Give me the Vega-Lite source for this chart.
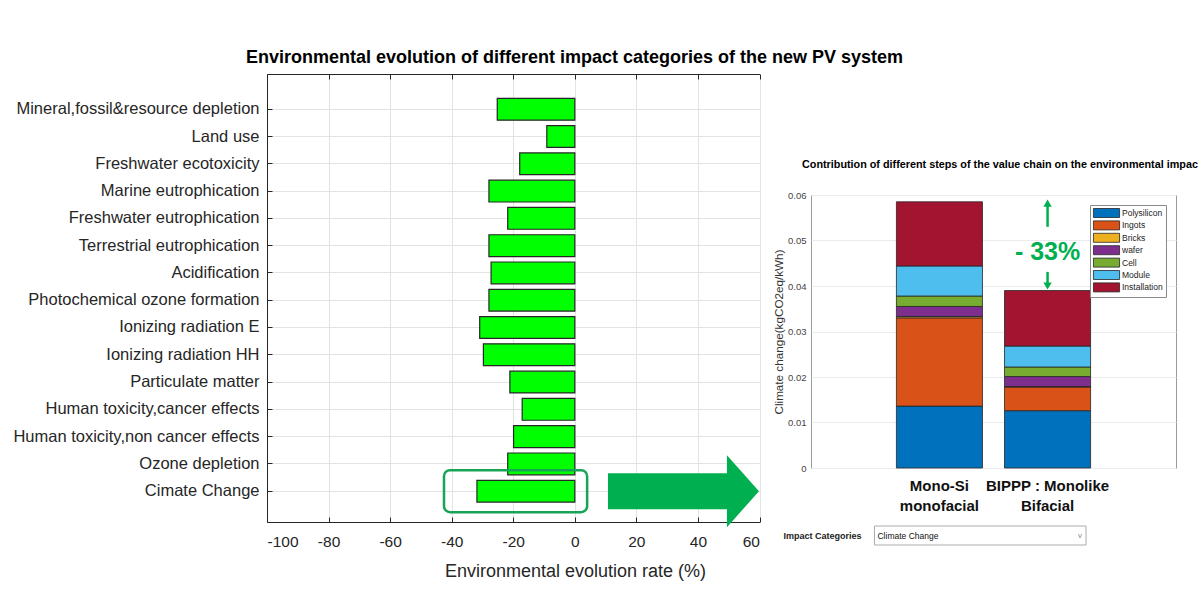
{
  "$schema": "https://vega.github.io/schema/vega-lite/v6.json",
  "background": "white",
  "padding": {"left": 12, "top": 48, "right": 0, "bottom": 0},
  "title": {"text": "Environmental evolution  of different impact categories of the new PV system", "anchor": "start", "dx": 233, "fontSize": 18, "fontWeight": "bold", "color": "#000000", "offset": 7},
  "config": {"font": "Liberation Sans"},
  "spacing": 12,
  "resolve": {"scale": {"color": "independent", "shape": "independent"}, "legend": {"color": "independent", "shape": "independent"}},
  "hconcat": [
    {
      "width": 492.5,
      "height": 448,
      "view": {"stroke": null},
      "layer": [
        {
          "data": {"values": [
            {"category": "Mineral,fossil&resource depletion", "rate": -25.2},
            {"category": "Land use", "rate": -9.1},
            {"category": "Freshwater ecotoxicity", "rate": -17.9},
            {"category": "Marine eutrophication", "rate": -27.9},
            {"category": "Freshwater eutrophication", "rate": -21.8},
            {"category": "Terrestrial eutrophication", "rate": -27.9},
            {"category": "Acidification", "rate": -27.2},
            {"category": "Photochemical ozone formation", "rate": -27.9},
            {"category": "Ionizing radiation E", "rate": -30.9},
            {"category": "Ionizing radiation HH", "rate": -29.7},
            {"category": "Particulate matter", "rate": -21.1},
            {"category": "Human toxicity,cancer effects", "rate": -17.1},
            {"category": "Human toxicity,non cancer effects", "rate": -19.9},
            {"category": "Ozone depletion", "rate": -21.8},
            {"category": "Cimate Change", "rate": -31.8}
          ]},
          "mark": {"type": "bar", "fill": "#00ff00", "stroke": "#262626", "strokeWidth": 1.2},
          "encoding": {
            "y": {
              "field": "category", "type": "nominal", "sort": null,
              "scale": {
                "domain": ["Mineral,fossil&resource depletion", "Land use", "Freshwater ecotoxicity", "Marine eutrophication", "Freshwater eutrophication", "Terrestrial eutrophication", "Acidification", "Photochemical ozone formation", "Ionizing radiation E", "Ionizing radiation HH", "Particulate matter", "Human toxicity,cancer effects", "Human toxicity,non cancer effects", "Ozone depletion", "Cimate Change"],
                "paddingInner": 0.2, "paddingOuter": 0.81, "align": 0.55
              },
              "axis": {"title": null, "labelFontSize": 16.5, "labelColor": "#262626", "labelPadding": 13, "labelLimit": 400, "domainColor": "#262626", "ticks": true, "tickSize": -5, "tickColor": "#262626", "grid": true, "gridColor": "#e3e3e3", "bandPosition": 0.5}
            },
            "x": {
              "field": "rate", "type": "quantitative",
              "scale": {"domain": [-100, 60], "nice": false, "zero": false},
              "axis": {"orient": "bottom", "values": [-100, -80, -60, -40, -20, 0, 20, 40, 60], "labelExpr": "'' + datum.value", "title": "Environmental evolution rate (%)", "titleX": 308, "titleFontSize": 18, "titleFontWeight": "normal", "titleColor": "#262626", "titlePadding": 13, "labelFontSize": 15.5, "labelColor": "#262626", "labelPadding": 17, "domainColor": "#262626", "ticks": true, "tickSize": -5, "tickColor": "#262626", "grid": true, "gridColor": "#e3e3e3"}
            }
          }
        },
        {
          "data": {"values": [{"category": "Cimate Change", "from": -42.5, "to": 4}]},
          "mark": {"type": "bar", "height": 42, "cornerRadius": 6, "fill": "transparent", "stroke": "#17a457", "strokeWidth": 2.5},
          "encoding": {
            "y": {"field": "category", "type": "nominal", "axis": null},
            "x": {"field": "from", "type": "quantitative", "axis": {"orient": "top", "values": [-100, -80, -60, -40, -20, 0, 20, 40, 60], "labels": false, "title": null, "grid": false, "domainColor": "#262626", "ticks": true, "tickSize": -5, "tickColor": "#262626"}},
            "x2": {"field": "to"}
          }
        },
        {
          "data": {"values": [{"category": "Cimate Change", "at": 35.3}]},
          "mark": {"type": "point", "shape": "M-1,-0.238L0.576,-0.238L0.576,-0.477L1,0L0.576,0.477L0.576,0.238L-1,0.238Z", "size": 22800, "filled": true, "fill": "#00b050", "opacity": 1, "strokeWidth": 0},
          "encoding": {
            "y": {"field": "category", "type": "nominal", "axis": null},
            "x": {"field": "at", "type": "quantitative", "axis": null}
          }
        }
      ],
      "resolve": {"axis": {"x": "independent", "y": "independent"}}
    },
    {
      "concat": [
        {
          "width": 10, "height": 72.5,
          "view": {"stroke": null},
          "data": {"values": []},
          "mark": "point",
          "encoding": {}
        },
        {
          "width": 365, "height": 273,
          "view": {"stroke": "#9a9a9a", "fill": "white"},
          "title": {"text": "Contribution of different steps of the value chain on the environmental impac", "anchor": "start", "frame": "group", "dx": -9, "fontSize": 10.8, "fontWeight": "bold", "color": "#000000", "offset": 20},
          "layer": [
            {
              "data": {"values": [
                {"system": "Mono-Si monofacial", "step": "Polysilicon", "rank": 1, "value": 0.0136},
                {"system": "Mono-Si monofacial", "step": "Ingots", "rank": 2, "value": 0.0194},
                {"system": "Mono-Si monofacial", "step": "Bricks", "rank": 3, "value": 0.0003},
                {"system": "Mono-Si monofacial", "step": "wafer", "rank": 4, "value": 0.0022},
                {"system": "Mono-Si monofacial", "step": "Cell", "rank": 5, "value": 0.0023},
                {"system": "Mono-Si monofacial", "step": "Module", "rank": 6, "value": 0.0066},
                {"system": "Mono-Si monofacial", "step": "Installation", "rank": 7, "value": 0.0141},
                {"system": "BIPPP : Monolike Bifacial", "step": "Polysilicon", "rank": 1, "value": 0.0126},
                {"system": "BIPPP : Monolike Bifacial", "step": "Ingots", "rank": 2, "value": 0.0052},
                {"system": "BIPPP : Monolike Bifacial", "step": "Bricks", "rank": 3, "value": 0.0001},
                {"system": "BIPPP : Monolike Bifacial", "step": "wafer", "rank": 4, "value": 0.0022},
                {"system": "BIPPP : Monolike Bifacial", "step": "Cell", "rank": 5, "value": 0.0021},
                {"system": "BIPPP : Monolike Bifacial", "step": "Module", "rank": 6, "value": 0.0046},
                {"system": "BIPPP : Monolike Bifacial", "step": "Installation", "rank": 7, "value": 0.0122}
              ]},
              "mark": {"type": "bar", "stroke": "#262626", "strokeWidth": 0.8},
              "encoding": {
                "x": {
                  "field": "system", "type": "nominal",
                  "scale": {"domain": ["Mono-Si monofacial", "BIPPP : Monolike Bifacial"], "paddingInner": 0.204, "paddingOuter": 0.79},
                  "axis": {"title": null, "labelExpr": "datum.value == 'Mono-Si monofacial' ? ['Mono-Si', 'monofacial'] : ['BIPPP : Monolike', 'Bifacial']", "labelAngle": 0, "labelFontSize": 15, "labelFontWeight": "bold", "labelColor": "#111111", "labelPadding": 10, "labelLineHeight": 20, "labelLimit": 300, "domain": false, "ticks": false}
                },
                "y": {
                  "field": "value", "type": "quantitative", "stack": "zero",
                  "scale": {"domain": [0, 0.06], "nice": false},
                  "axis": {"values": [0, 0.01, 0.02, 0.03, 0.04, 0.05, 0.06], "format": ".2~f", "title": "Climate change(kgCO2eq/kWh)", "titleFontSize": 11.7, "titleFontWeight": "normal", "titleColor": "#333333", "titlePadding": 3, "labelFontSize": 9.5, "labelColor": "#444444", "labelPadding": 5, "domain": false, "ticks": false, "grid": true, "gridColor": "#ebebeb"}
                },
                "color": {
                  "field": "step", "type": "nominal",
                  "scale": {"domain": ["Polysilicon", "Ingots", "Bricks", "wafer", "Cell", "Module", "Installation"], "range": ["#0072BD", "#D95319", "#EDB120", "#7E2F8E", "#77AC30", "#4DBEEE", "#A2142F"]},
                  "legend": {"orient": "top-right", "offset": 10, "title": null, "symbolType": "M-2.9,-1H2.9V1H-2.9Z", "symbolSize": 81, "symbolOffset": 8.5, "symbolStrokeColor": "#262626", "symbolStrokeWidth": 0.8, "labelFontSize": 8.5, "labelColor": "#222222", "labelOffset": 10.5, "strokeColor": "#8a8a8a", "fillColor": "white", "padding": 3, "rowPadding": -1.6}
                },
                "order": {"field": "rank", "type": "quantitative"}
              }
            },
            {
              "data": {"values": [
                {"system": "BIPPP : Monolike Bifacial", "from": 0.0530, "to": 0.0580},
                {"system": "BIPPP : Monolike Bifacial", "from": 0.0431, "to": 0.0402}
              ]},
              "mark": {"type": "rule", "color": "#00b050", "strokeWidth": 2.5},
              "encoding": {
                "x": {"field": "system", "type": "nominal", "axis": null},
                "y": {"field": "from", "type": "quantitative", "axis": null},
                "y2": {"field": "to"}
              }
            },
            {
              "data": {"values": [
                {"system": "BIPPP : Monolike Bifacial", "at": 0.0582, "dir": "up"},
                {"system": "BIPPP : Monolike Bifacial", "at": 0.0400, "dir": "down"}
              ]},
              "mark": {"type": "point", "filled": true, "size": 70, "color": "#00b050", "opacity": 1},
              "encoding": {
                "x": {"field": "system", "type": "nominal", "axis": null},
                "y": {"field": "at", "type": "quantitative", "axis": null},
                "shape": {"field": "dir", "type": "nominal", "scale": {"domain": ["up", "down"], "range": ["triangle-up", "triangle-down"]}, "legend": null}
              }
            },
            {
              "data": {"values": [
                {"system": "BIPPP : Monolike Bifacial", "at": 0.0474, "label": "- 33%"}
              ]},
              "mark": {"type": "text", "fontSize": 25, "fontWeight": "bold", "color": "#00b050", "baseline": "middle", "align": "center"},
              "encoding": {
                "x": {"field": "system", "type": "nominal", "axis": null},
                "y": {"field": "at", "type": "quantitative", "axis": null},
                "text": {"field": "label"}
              }
            }
          ],
          "resolve": {"axis": {"x": "independent", "y": "independent"}}
        },
        {
          "width": 275, "height": 19,
          "view": {"stroke": null},
          "data": {"values": [{"label": "Impact Categories", "category": "Climate Change", "button": "v"}]},
          "encoding": {
            "x": {"field": "category", "type": "nominal", "scale": {"paddingInner": 0, "paddingOuter": 0.15, "align": 1}, "axis": null}
          },
          "layer": [
            {
              "mark": {"type": "bar", "fill": "white", "stroke": "#ababab", "strokeWidth": 1}
            },
            {
              "mark": {"type": "text", "align": "left", "baseline": "middle", "dx": 3, "fontSize": 8.5, "color": "#111111"},
              "encoding": {
                "x": {"field": "category", "type": "nominal", "bandPosition": 0},
                "text": {"field": "category"}
              }
            },
            {
              "mark": {"type": "text", "align": "right", "baseline": "middle", "dx": -13, "fontSize": 9, "fontWeight": "bold", "color": "#222222"},
              "encoding": {
                "x": {"field": "category", "type": "nominal", "bandPosition": 0},
                "text": {"field": "label"}
              }
            },
            {
              "mark": {"type": "text", "align": "right", "baseline": "middle", "dx": -4, "fontSize": 8, "color": "#888888"},
              "encoding": {
                "x": {"field": "category", "type": "nominal", "bandPosition": 1},
                "text": {"field": "button"}
              }
            }
          ]
        }
      ],
      "columns": 1,
      "spacing": 11,
      "resolve": {"scale": {"color": "independent", "shape": "independent"}, "legend": {"color": "independent", "shape": "independent"}}
    }
  ]
}
